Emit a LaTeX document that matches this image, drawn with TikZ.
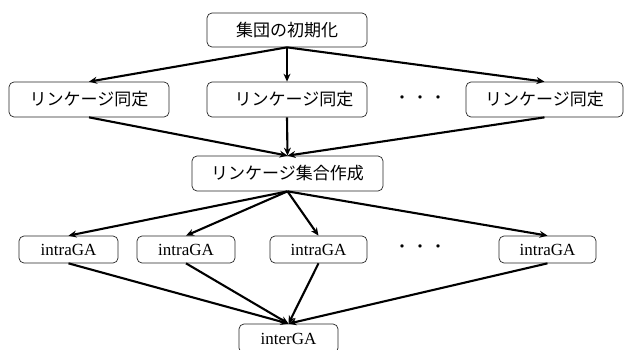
\documentclass[tikz,border=0pt]{standalone}
\usepackage{fontspec}
\setmainfont{Liberation Serif}
\newfontfamily\cjk{Noto Sans CJK JP}
\usetikzlibrary{arrows.meta}
\begin{document}
\begin{tikzpicture}[x=1pt,y=-1pt,
  box/.style={draw=black!85,line width=0.7pt,rounded corners=5pt,inner sep=0pt,align=center},
  jbox/.style={box,font=\cjk\fontsize{17}{19}\selectfont},
  gabox/.style={box,font=\fontsize{17}{19}\selectfont},
  arr/.style={line width=2.1pt,-{Stealth[length=8pt,width=7pt]}},
  dots/.style={font=\cjk\fontsize{16}{18}\selectfont,inner sep=0pt}]
\useasboundingbox (0,0) rectangle (624,350);
\node[jbox,minimum width=160pt,minimum height=34pt] (init) at (287,30) {集団の初期化};
\node[jbox,minimum width=160pt,minimum height=35pt] (l1) at (89,99.5) {リンケージ同定};
\node[jbox,minimum width=160pt,minimum height=35pt] (l2) at (287,99.5) {\hspace*{14pt}リンケージ同定};
\node[jbox,minimum width=157pt,minimum height=35pt] (l3) at (544.5,99.5) {リンケージ同定};
\node[dots] (d1) at (420,99.5) {・\hspace{2pt}・\hspace{2pt}・};
\node[jbox,minimum width=191pt,minimum height=35pt] (set) at (287.5,173.5) {リンケージ集合作成};
\node[gabox,minimum width=99pt,minimum height=27pt] (g1) at (68.5,249.5) {intraGA};
\node[gabox,minimum width=98pt,minimum height=27pt] (g2) at (186,249.5) {intraGA};
\node[gabox,minimum width=97pt,minimum height=27pt] (g3) at (318.5,249.5) {intraGA};
\node[gabox,minimum width=97pt,minimum height=27pt] (g4) at (547.5,249.5) {intraGA};
\node[dots] (d2) at (420,248.5) {・\hspace{2pt}・\hspace{2pt}・};
\node[gabox,minimum width=99pt,minimum height=29pt] (inter) at (288.5,338.5) {interGA};
\foreach \n in {l1,l2,l3} \draw[arr] (init.south) -- (\n.north);
\foreach \n in {l1,l2,l3} \draw[arr] (\n.south) -- (set.north);
\foreach \n in {g1,g2,g3,g4} \draw[arr] (set.south) -- (\n.north);
\foreach \n in {g1,g2,g3,g4} \draw[arr] (\n.south) -- (inter.north);
\end{tikzpicture}
\end{document}
